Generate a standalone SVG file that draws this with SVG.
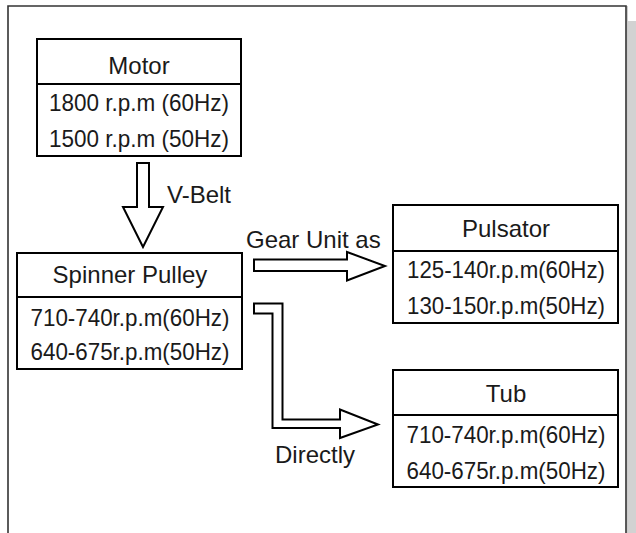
<svg xmlns="http://www.w3.org/2000/svg" width="636" height="533" viewBox="0 0 636 533">
<style>
.box{fill:#fff;stroke:#000;stroke-width:2}
.div{stroke:#000;stroke-width:2}
.arr{fill:#fff;stroke:#000;stroke-width:2;stroke-linejoin:miter}
text{font-family:"Liberation Sans",Arial,sans-serif;font-size:24px;fill:#1a1a1a}
.c{text-anchor:middle}
</style>
<rect x="0" y="0" width="636" height="533" fill="#fff"/>
<g id="frame">
<rect x="628" y="21" width="8" height="512" fill="#d2d2d2"/>
<path d="M8 533 V6 H626 V533" fill="none" stroke="#333" stroke-width="1.6"/>
<line x1="626.8" y1="6" x2="626.8" y2="533" stroke="#555" stroke-width="1"/>
</g>
<g id="motor">
<rect class="box" x="37" y="39" width="204" height="117"/>
<line class="div" x1="37" y1="84" x2="241" y2="84"/>
<text class="c" x="139" y="74">Motor</text>
<text class="c" x="139" y="111" textLength="180" lengthAdjust="spacingAndGlyphs">1800 r.p.m (60Hz)</text>
<text class="c" x="139" y="147" textLength="180" lengthAdjust="spacingAndGlyphs">1500 r.p.m (50Hz)</text>
</g>
<g id="spinner">
<rect class="box" x="17" y="253" width="225" height="116"/>
<line class="div" x1="17" y1="297" x2="242" y2="297"/>
<text class="c" x="130" y="283">Spinner Pulley</text>
<text class="c" x="130" y="326" textLength="199" lengthAdjust="spacingAndGlyphs">710-740r.p.m(60Hz)</text>
<text class="c" x="130" y="360" textLength="199" lengthAdjust="spacingAndGlyphs">640-675r.p.m(50Hz)</text>
</g>
<g id="pulsator">
<rect class="box" x="393" y="205" width="225" height="118"/>
<line class="div" x1="393" y1="251" x2="618" y2="251"/>
<text class="c" x="506" y="237">Pulsator</text>
<text class="c" x="506" y="278" textLength="198" lengthAdjust="spacingAndGlyphs">125-140r.p.m(60Hz)</text>
<text class="c" x="506" y="314" textLength="198" lengthAdjust="spacingAndGlyphs">130-150r.p.m(50Hz)</text>
</g>
<g id="tub">
<rect class="box" x="393" y="370" width="225" height="117"/>
<line class="div" x1="393" y1="415" x2="618" y2="415"/>
<text class="c" x="506" y="402">Tub</text>
<text class="c" x="506" y="443" textLength="199" lengthAdjust="spacingAndGlyphs">710-740r.p.m(60Hz)</text>
<text class="c" x="506" y="479" textLength="199" lengthAdjust="spacingAndGlyphs">640-675r.p.m(50Hz)</text>
</g>
<g id="connectors">
<path class="arr" d="M137 163 H149 V207 H163 L143 247 L123 207 H137 Z"/>
<text x="167" y="203">V-Belt</text>
<path class="arr" d="M254 259.5 H347 V252 L385 266 L347 280.5 V271 H254 Z"/>
<text x="246" y="248">Gear Unit as</text>
<path class="arr" d="M254 303.5 H282.5 V419.5 H340 V409.5 L378 424.5 L340 438 V428 H272.5 V313.5 H254 Z"/>
<text x="275" y="463">Directly</text>
</g>
</svg>
